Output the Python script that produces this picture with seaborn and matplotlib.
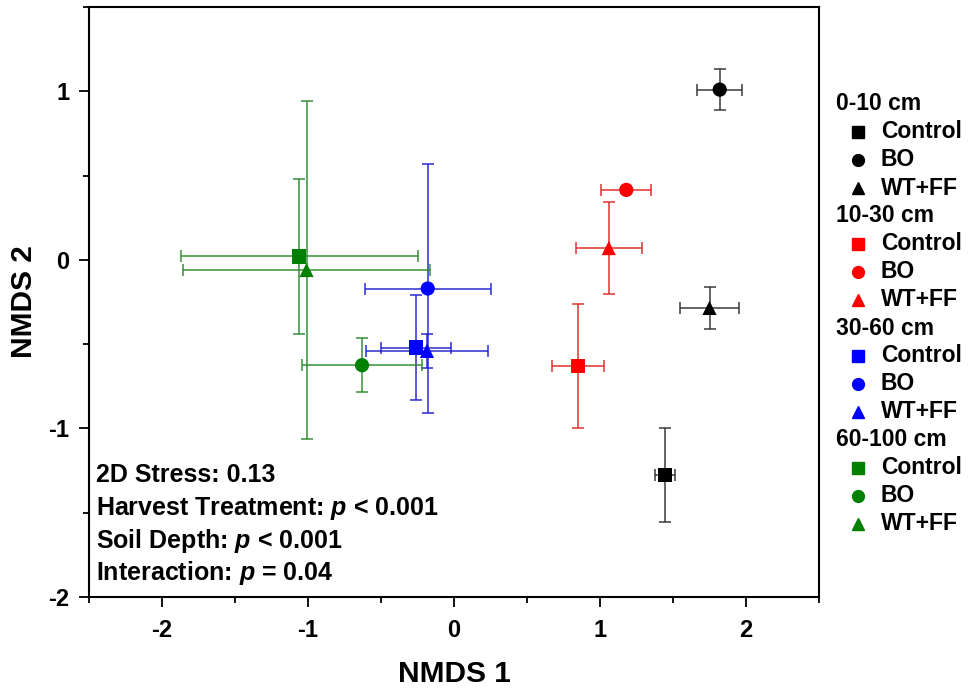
import matplotlib
matplotlib.use("Agg")
import matplotlib.pyplot as plt
import seaborn as sns
import pandas as pd
from matplotlib.ticker import MultipleLocator

# ---------------- data ----------------
depths = ["0-10 cm", "10-30 cm", "30-60 cm", "60-100 cm"]
treatments = ["Control", "BO", "WT+FF"]
depth = [d for d in depths for _ in treatments]
treatment = treatments * len(depths)
nmds1 = [1.445, 1.82, 1.75, 0.85, 1.18, 1.06, -0.26, -0.18, -0.185, -1.06, -0.63, -1.01]
nmds2 = [-1.275, 1.01, -0.285, -0.63, 0.415, 0.07, -0.52, -0.17, -0.54, 0.02, -0.625, -0.06]
err1 = [0.07, 0.155, 0.20, 0.18, 0.17, 0.225, 0.24, 0.43, 0.42, 0.81, 0.41, 0.845]
err2 = [0.28, 0.12, 0.125, 0.37, 0.02, 0.275, 0.31, 0.74, 0.10, 0.46, 0.16, 1.00]
annotations = ["2D Stress: 0.13",
               "Harvest Treatment: $p$ < 0.001",
               "Soil Depth: $p$ < 0.001",
               "Interaction: $p$ = 0.04"]

colors = {"0-10 cm": "#000000", "10-30 cm": "#FF0000",
          "30-60 cm": "#0000FF", "60-100 cm": "#008000"}
err_colors = {"0-10 cm": "#333333", "10-30 cm": "#E02828",
              "30-60 cm": "#2323D0", "60-100 cm": "#2E8B2E"}
markers = {"Control": "s", "BO": "o", "WT+FF": "^"}

df = pd.DataFrame({"depth": depth, "treatment": treatment,
                   "NMDS1": nmds1, "NMDS2": nmds2, "e1": err1, "e2": err2})

# ---------------- style ----------------
sns.set_theme(style="ticks")
plt.rcParams["font.family"] = ["Liberation Sans", "DejaVu Sans"]
plt.rcParams["font.weight"] = "bold"
plt.rcParams["axes.unicode_minus"] = False
plt.rcParams["mathtext.fontset"] = "custom"
plt.rcParams["mathtext.it"] = "Liberation Sans:italic:bold"
plt.rcParams["mathtext.rm"] = "Liberation Sans:bold"
for k in ["text.color", "axes.labelcolor", "xtick.color", "ytick.color",
          "axes.edgecolor"]:
    plt.rcParams[k] = "black"

fig = plt.figure(figsize=(9.76, 6.90), dpi=100)
ax = fig.add_axes([89 / 976, 1 - 597 / 690, 730 / 976, 590 / 690])

# error bars
for _, r in df.iterrows():
    ax.errorbar(r.NMDS1, r.NMDS2, xerr=r.e1, yerr=r.e2, fmt="none",
                ecolor=err_colors[r.depth], elinewidth=1.25, capsize=4.5,
                capthick=1.25, alpha=0.85, zorder=2)

sns.scatterplot(data=df, x="NMDS1", y="NMDS2", hue="depth", style="treatment",
                palette=colors, markers=markers, s=105, linewidth=0,
                legend=False, ax=ax, zorder=3)

ax.set_xlim(-2.5, 2.5)
ax.set_ylim(-2, 1.5)
ax.xaxis.set_major_locator(MultipleLocator(1))
ax.xaxis.set_minor_locator(MultipleLocator(0.5))
ax.yaxis.set_major_locator(MultipleLocator(1))
ax.yaxis.set_minor_locator(MultipleLocator(0.5))
ax.tick_params(which="major", direction="out", length=7, width=1.3,
               labelsize=17)
ax.tick_params(axis="x", which="major", pad=9)
ax.tick_params(axis="y", which="major", pad=7)
ax.tick_params(which="minor", direction="out", length=4, width=1.3)
for lab in ax.get_xticklabels() + ax.get_yticklabels():
    lab.set_fontweight("bold")
for s in ax.spines.values():
    s.set_linewidth(1.5)
    s.set_color("black")

ax.set_xlabel("NMDS 1", fontsize=21.5, fontweight="bold")
ax.set_ylabel("NMDS 2", fontsize=21.5, fontweight="bold", va="center")
ax.xaxis.set_label_coords(0.5, -(674 - 597) / 590)
ax.yaxis.set_label_coords((24 - 89) / 730, 0.5)
ax.xaxis.label.set_va("center")

# statistics text
base_y = [482, 515, 548, 580]
for txt, by in zip(annotations, base_y):
    fig.text(96 / 976, 1 - by / 690, txt, fontsize=18, fontweight="bold",
             ha="left", va="baseline")

# legend (manual, grouped)
row = 104
for d in depths:
    fig.text(836 / 976, 1 - row / 690, d, fontsize=16.5, fontweight="bold",
             ha="left", va="center")
    row += 28
    for t in treatments:
        ax.plot([858 / 976], [1 - row / 690], marker=markers[t], color=colors[d],
                markersize=8 if t != "BO" else 8.5, linestyle="none",
                transform=fig.transFigure, clip_on=False)
        fig.text(881 / 976, 1 - row / 690, t, fontsize=16.5, fontweight="bold",
                 ha="left", va="center")
        row += 28

fig.savefig("out.png", dpi=100)
